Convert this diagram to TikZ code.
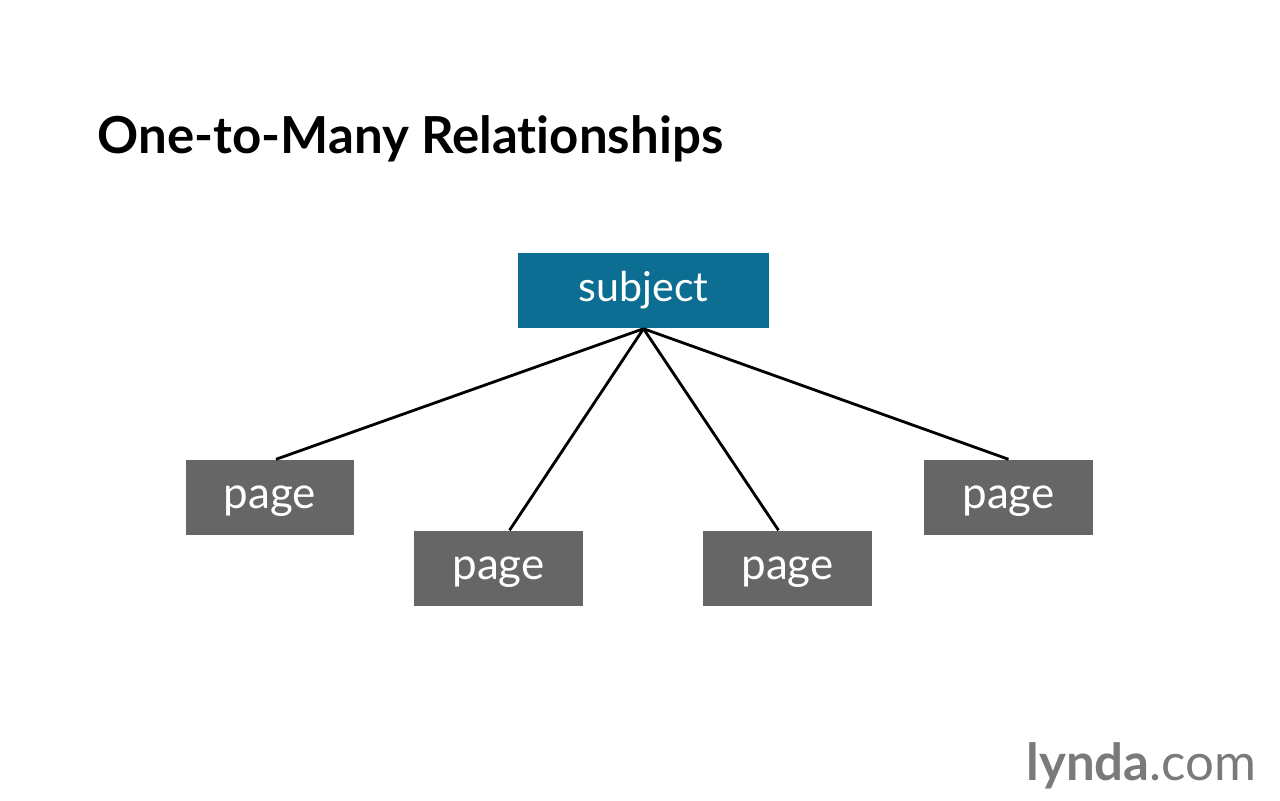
\documentclass[tikz,border=0pt]{standalone}
\usepackage{fontspec}
\setmainfont{Lato}[Ligatures=NoCommon]
\usetikzlibrary{positioning}

\definecolor{subjblue}{HTML}{0B6E92}
\definecolor{pagegray}{HTML}{666666}
\definecolor{logogray}{HTML}{7A7A7A}

\tikzset{
  subjbox/.style={fill=subjblue,text=white,minimum width=2.51cm,minimum height=0.75cm,inner sep=0pt,text height=0.7em,text depth=0.1em,font=\fontsize{11.7}{12}\selectfont},
  pagebox/.style={fill=pagegray,text=white,minimum width=1.68cm,minimum height=0.75cm,inner sep=0pt,text height=0.7em,text depth=0.1em,font=\fontsize{12.5}{13}\selectfont},
  link/.style={thick,black}
}

\begin{document}
\begin{tikzpicture}[x=0.01cm,y=-0.01cm]

% Frame
\useasboundingbox[fill=white] (0,0) rectangle (1280,800);

% Title
\node[anchor=base west,inner sep=0pt,font=\fontsize{14.5}{16}\bfseries\selectfont] (title) at (97,153) {One-to-Many Relationships};

% Nodes
\node[subjbox] (subject) at (643.5,290.5) {subject};
\node[pagebox] (page1) at (270,497.5) {page};
\node[pagebox] (page2) at (498.5,568.5) {page};
\node[pagebox] (page3) at (787.5,568.5) {page};
\node[pagebox] (page4) at (1008.5,497.5) {page};

% Lines
\draw[link] (subject.south) -- ([xshift=0.06cm]page1.north);
\draw[link] (subject.south) -- ([xshift=0.11cm]page2.north);
\draw[link] (subject.south) -- ([xshift=-0.09cm]page3.north);
\draw[link] (subject.south) -- (page4.north);

% Logo
\node[anchor=base east,inner sep=0pt,text=logogray,font=\fontsize{14.5}{15}\selectfont] (logo) at (1257,780) {\textbf{lynda}.com};

\end{tikzpicture}
\end{document}
